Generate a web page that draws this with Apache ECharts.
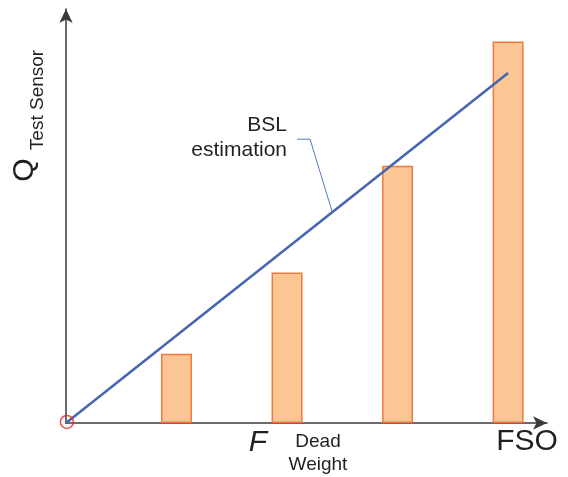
<!DOCTYPE html>
<html><head><meta charset="utf-8">
<script src="https://cdn.jsdelivr.net/npm/echarts@6/dist/echarts.min.js"></script>
<style>html,body{margin:0;padding:0;background:#fff}#c{width:568px;height:477px}</style>
</head><body><div id="c"></div>
<script>
// Data (relative units: FSO = 1 on x, BSL value at FSO = 1 on y)
const barX = [0.25, 0.5, 0.75, 1.0];
const barQ = [0.198, 0.43, 0.735, 1.09];
const bslX = [0, 1.0];
const bslQ = [0, 1.0];
const leaderX = [0.523, 0.552, 0.602];
const leaderQ = [0.811, 0.811, 0.604];
const originPt = [0.002, 0.003];

const zip = (a, b) => a.map((v, i) => [v, b[i]]);
const txt = '#231f20';
const font = '"Liberation Sans", Arial, sans-serif';

const chart = echarts.init(document.getElementById('c'), null, {renderer: 'canvas'});
chart.setOption({
  animation: false,
  grid: {left: 66, right: 21, top: 9, bottom: 54},
  xAxis: {
    type: 'value', min: 0, max: 1.088,
    axisLine: {lineStyle: {color: '#3a3a3a', width: 1.5}, symbol: ['none', 'arrow'], symbolSize: [10, 14]},
    axisTick: {show: false}, axisLabel: {show: false}, splitLine: {show: false}
  },
  yAxis: {
    type: 'value', min: 0, max: 1.183,
    axisLine: {show: true, lineStyle: {color: '#3a3a3a', width: 1.5}, symbol: ['none', 'arrow'], symbolSize: [10, 14]},
    axisTick: {show: false}, axisLabel: {show: false}, splitLine: {show: false}
  },
  series: [
    {type: 'bar', data: zip(barX, barQ), barWidth: 31,
     itemStyle: {color: '#fbc594', borderColor: '#f07a3c', borderWidth: 1.5}, z: 2},
    {type: 'line', data: zip(bslX, bslQ), symbol: 'none',
     lineStyle: {color: '#4466b0', width: 2.5}, z: 3},
    {type: 'line', data: zip(leaderX, leaderQ), symbol: 'none',
     lineStyle: {color: '#5577c4', width: 1}, z: 3},
    {type: 'scatter', data: [originPt], symbol: 'circle', symbolSize: 13, clip: false, zlevel: 1,
     itemStyle: {color: 'rgba(255,255,255,0)', borderColor: '#e8262a', borderWidth: 1.6}, z: 10}
  ],
  graphic: [
    {type: 'text', x: 287, y: 125, style: {text: 'BSL', font: '21px ' + font, fill: txt, align: 'right', verticalAlign: 'middle'}},
    {type: 'text', x: 287, y: 150, style: {text: 'estimation', font: '21px ' + font, fill: txt, align: 'right', verticalAlign: 'middle'}},
    {type: 'text', x: 258, y: 443, style: {text: 'F', font: 'italic 30px ' + font, fill: txt, align: 'center', verticalAlign: 'middle'}},
    {type: 'text', x: 318, y: 442, style: {text: 'Dead', font: '19px ' + font, fill: txt, align: 'center', verticalAlign: 'middle'}},
    {type: 'text', x: 318, y: 465, style: {text: 'Weight', font: '19px ' + font, fill: txt, align: 'center', verticalAlign: 'middle'}},
    {type: 'text', x: 527, y: 442, style: {text: 'FSO', font: '30px ' + font, fill: txt, align: 'center', verticalAlign: 'middle'}},
    {type: 'text', x: 25, y: 170, rotation: Math.PI / 2, style: {text: 'Q', font: '30px ' + font, fill: txt, align: 'center', verticalAlign: 'middle'}},
    {type: 'text', x: 38, y: 100, rotation: Math.PI / 2, style: {text: 'Test Sensor', font: '19px ' + font, fill: txt, align: 'center', verticalAlign: 'middle'}}
  ]
});
</script></body></html>
